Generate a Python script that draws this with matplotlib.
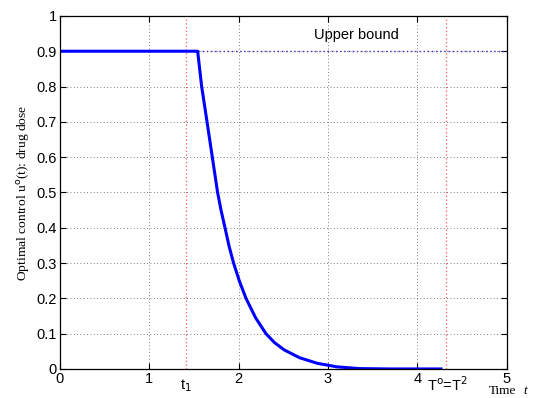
import matplotlib
matplotlib.use("Agg")
import matplotlib.pyplot as plt

# optimal control profile
t_vals = [0.0, 1.542, 1.587, 1.647, 1.706, 1.765, 1.805, 1.848, 1.894, 1.944, 2.01,
          2.083, 2.19, 2.306, 2.40, 2.51, 2.68, 2.88, 3.1, 3.35, 3.7, 4.28]
u_vals = [0.9, 0.9, 0.8, 0.7, 0.6, 0.5, 0.448, 0.4, 0.347, 0.3, 0.248,
          0.2, 0.145, 0.1, 0.075, 0.054, 0.032, 0.016, 0.006, 0.001, 0.0, 0.0]

upper_bound = 0.9
t1 = 1.41
T_end = 4.32

x_ticks = [0, 1, 2, 3, 4, 5]
y_ticks = [0, 0.1, 0.2, 0.3, 0.4, 0.5, 0.6, 0.7, 0.8, 0.9, 1]
y_tick_labels = ["0", "0.1", "0.2", "0.3", "0.4", "0.5", "0.6", "0.7", "0.8", "0.9", "1"]

SANS = "Liberation Sans"
SERIF = "Liberation Serif"

fig = plt.figure(figsize=(5.34, 3.98), dpi=100)
ax = fig.add_axes([0.112, 0.073, 0.837, 0.887])

ax.set_xlim(0, 5)
ax.set_ylim(0, 1)
ax.set_xticks(x_ticks)
ax.set_xticklabels([str(x) for x in x_ticks], family=SANS, fontsize=10.5)
ax.set_yticks(y_ticks)
ax.set_yticklabels(y_tick_labels, family=SANS, fontsize=10.5)
ax.tick_params(direction="in", top=True, right=True, length=4, pad=2)
ax.grid(True, linestyle=(0, (1, 3)), color="#555555", linewidth=0.6)
for s in ax.spines.values():
    s.set_linewidth(0.9)

# bound and switching times
ax.plot([t_vals[1], 5], [upper_bound, upper_bound], color="#3333cc",
        linestyle=(0, (1, 2)), linewidth=1.0)
ax.axvline(t1, color="#ff5555", linestyle=(0, (1, 2)), linewidth=0.9)
ax.axvline(T_end, color="#ff5555", linestyle=(0, (1, 2)), linewidth=0.9)

ax.plot(t_vals, u_vals, color="#0000ff", linewidth=2.2, solid_capstyle="butt",
        solid_joinstyle="round")

ax.text(3.32, 0.925, "Upper bound", family=SANS, fontsize=10.5,
        ha="center", va="bottom")

ax.text(t1, -0.025, r"t$_1$", family=SANS, fontsize=10.5, ha="center", va="top",
        clip_on=False)
ax.text(T_end + 0.02, -0.018, r"T$^{\rm o}$=T$^2$", family=SANS, fontsize=10.5,
        ha="center", va="top", clip_on=False)
ax.text(5.11, -0.072, "Time", family=SERIF, fontsize=9.5, ha="right",
        va="baseline", clip_on=False)
ax.text(5.21, -0.072, "t", family=SERIF, style="italic", fontsize=9.5,
        ha="center", va="baseline", clip_on=False)

ax.set_ylabel(r"Optimal control u$^{\rm o}$(t): drug dose", family=SERIF,
              fontsize=9.7, labelpad=3)

fig.savefig("out.png", dpi=100)
